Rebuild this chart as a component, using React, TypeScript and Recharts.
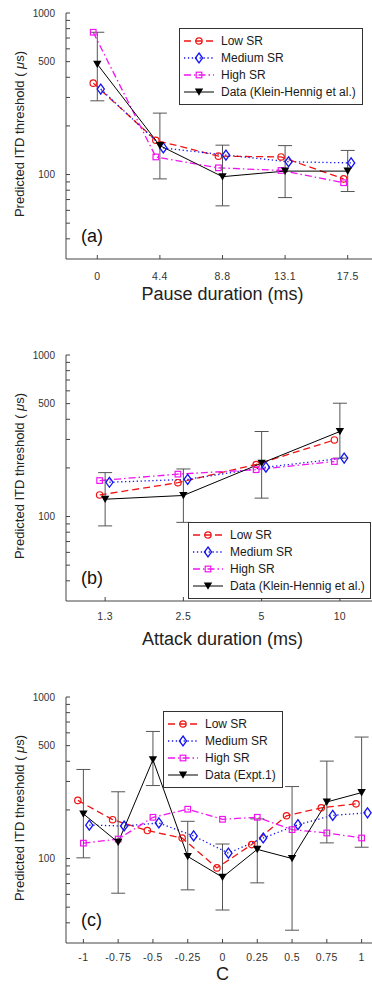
import React from 'react';
import { LineChart, Line, XAxis, YAxis, ErrorBar, Legend } from 'recharts';

const FONT = '"Liberation Sans", Arial, sans-serif';

// (a) pause duration
const pauseTicks = ['0', '4.4', '8.8', '13.1', '17.5'];
const pauseLow = [368, 163, 130, 128.5, 94];
const pauseMedium = [338, 146, 132, 120, 118];
const pauseHigh = [760, 128.5, 110, 106, 89];
const pauseData = [482, 151, 97, 105, 105];
const pauseDataLo = [286, 94, 64, 72, 78.5];
const pauseDataHi = [760, 240, 152, 151, 141];

// (b) attack duration
const attackTicks = ['1.3', '2.5', '5', '10'];
const attackLow = [136, 162, 210, 298];
const attackMedium = [163, 170, 202, 230];
const attackHigh = [167, 183, 195, 219];
const attackData = [128, 135, 214, 336];
const attackDataLo = [87.5, 92, 130, 230];
const attackDataHi = [187, 197, 336, 503];

// (c) C
const cTicks = ['-1', '-0.75', '-0.5', '-0.25', '0', '0.25', '0.5', '0.75', '1'];
const cLow = [229, 174, 149, 134, 87.5, 122, 184, 206, 218];
const cMedium = [161, 159, 166, 138, 108, 134, 162, 185, 192];
const cHigh = [124.5, 132, 180, 202, 175, 180, 151, 144, 134];
const cData = [189, 126, 409, 103, 76.6, 114, 100, 224, 256];
const cDataLo = [101, 61, 283, 64, 48, 70.7, 36, 125, 117.5];
const cDataHi = [356, 259, 612, 170, 123, 176, 279, 401, 565];

const yTicks = [40, 50, 60, 70, 80, 90, 100, 200, 300, 400, 500, 600, 700, 800, 900, 1000];
const yLabelled = [100, 500, 1000];

type Kind = 'circle' | 'diamond' | 'square' | 'triangle';

const LOW = { color: '#f01414', dash: '7 4', marker: 'circle' as Kind, width: 1.3, order: 0 };
const MED = { color: '#1414f0', dash: '1.3 2.6', marker: 'diamond' as Kind, width: 1.3, order: 1 };
const HIGH = { color: '#f014f0', dash: '7 3 1.5 3', marker: 'square' as Kind, width: 1.3, order: 2 };
const DATA = { color: '#000', dash: undefined, marker: 'triangle' as Kind, width: 1, order: 3 };

const styleFor = (name: string) =>
  name.startsWith('Low') ? LOW : name.startsWith('Medium') ? MED : name.startsWith('High') ? HIGH : DATA;

function Marker({ kind, cx, cy, color }: { kind: Kind; cx?: number; cy?: number; color: string }) {
  if (cx == null || cy == null || isNaN(cx) || isNaN(cy)) return null;
  if (kind === 'circle')
    return <circle cx={cx} cy={cy} r={3.2} fill="none" stroke={color} strokeWidth={1.2} />;
  if (kind === 'diamond')
    return (
      <polygon
        points={`${cx},${cy - 5} ${cx + 3.6},${cy} ${cx},${cy + 5} ${cx - 3.6},${cy}`}
        fill="none"
        stroke={color}
        strokeWidth={1.3}
      />
    );
  if (kind === 'square')
    return <rect x={cx - 2.8} y={cy - 2.8} width={5.6} height={5.6} fill="none" stroke={color} strokeWidth={1.2} />;
  return <polygon points={`${cx - 4.2},${cy - 3.5} ${cx + 4.2},${cy - 3.5} ${cx},${cy + 3.8}`} fill="#000" />;
}

function LegendBox({ payload, width }: any) {
  // keep the plotting order: Low, Medium, High, Data
  const items = [...(payload || [])].sort(
    (a: any, b: any) => styleFor(String(a.value)).order - styleFor(String(b.value)).order
  );
  return (
    <div
      style={{
        width,
        boxSizing: 'border-box',
        border: '1px solid #333',
        background: '#fff',
        padding: '3px 4px',
        fontFamily: FONT,
        fontSize: 12,
        color: '#1a1a1a',
      }}
    >
      {items.map((item: any) => {
        const s = styleFor(String(item.value));
        return (
          <div key={item.value} style={{ display: 'flex', alignItems: 'center', height: 17.2 }}>
            <svg width={30} height={10} style={{ overflow: 'visible', flex: 'none' }}>
              <line x1={0} y1={5} x2={30} y2={5} stroke={s.color} strokeWidth={s.width} strokeDasharray={s.dash} />
              <Marker kind={s.marker} cx={15} cy={5} color={s.color} />
            </svg>
            <span style={{ marginLeft: 7, whiteSpace: 'nowrap' }}>{item.value}</span>
          </div>
        );
      })}
    </div>
  );
}

const renderYLabel = (props: any) => {
  const vb = props.viewBox || {};
  const cx = 19;
  const cy = (vb.y ?? 13) + (vb.height ?? 246) / 2 - 2;
  return (
    <text
      x={cx}
      y={cy}
      transform={`rotate(-90 ${cx} ${cy})`}
      textAnchor="middle"
      dominantBaseline="central"
      fontSize={13}
      fill="#222"
      fontFamily={FONT}
    >
      Predicted ITD threshold ( <tspan fontStyle="italic">μ</tspan>s)
    </text>
  );
};

interface PanelProps {
  tag: string;
  xTitle: string;
  cats: string[];
  low: number[];
  medium: number[];
  high: number[];
  data: number[];
  lo: number[];
  hi: number[];
  dataName: string;
  offsets: [number, number, number];
  tickGap: number;
  titleBase: number;
  legend: { left: number; top: number; width: number };
}

function Panel(p: PanelProps) {
  const idx = p.cats.map((_, i) => i);
  const domain = [-0.5, p.cats.length - 0.5];
  const rows = (vals: number[], off: number) => vals.map((v, i) => ({ x: i + off, y: v }));
  const dataRows = p.data.map((v, i) => ({ x: i, y: v, err: [v - p.lo[i], p.hi[i] - v] }));

  const series = [
    { name: 'Low SR', rows: rows(p.low, p.offsets[0]), s: LOW },
    { name: 'Medium SR', rows: rows(p.medium, p.offsets[1]), s: MED },
    { name: 'High SR', rows: rows(p.high, p.offsets[2]), s: HIGH },
  ];

  const xTitle = (props: any) => {
    const vb = props.viewBox || {};
    const x = (vb.x ?? 66) + (vb.width ?? 313) / 2;
    const y = (vb.y ?? 259) + p.titleBase;
    return (
      <text x={x} y={y} textAnchor="middle" fontSize={18} fill="#222" fontFamily={FONT}>
        {p.xTitle}
      </text>
    );
  };

  return (
    <div style={{ position: 'relative', width: 392, height: 342 }}>
      <LineChart width={392} height={342} margin={{ top: 13, right: 13, bottom: 38, left: 8 }}>
        <XAxis
          type="number"
          dataKey="x"
          domain={domain}
          ticks={idx}
          interval={0}
          allowDataOverflow
          height={45}
          tickSize={-4}
          tickMargin={p.tickGap}
          tickFormatter={(v: number) => p.cats[Math.round(v)] ?? ''}
          stroke="#444"
          tick={{ fontSize: 10.5, fill: '#333', fontFamily: FONT, letterSpacing: 0.4 }}
          label={xTitle}
        />
        <XAxis
          xAxisId="top"
          orientation="top"
          type="number"
          dataKey="x"
          domain={domain}
          ticks={idx}
          interval={0}
          allowDataOverflow
          height={0}
          tickSize={-4}
          tickFormatter={() => ''}
          stroke="#444"
        />
        <YAxis
          type="number"
          scale="log"
          domain={[30, 1000]}
          ticks={yTicks}
          interval={0}
          allowDataOverflow
          width={58}
          tickSize={-4}
          tickMargin={15}
          tickFormatter={(v: number) => (yLabelled.includes(v) ? String(v) : '')}
          stroke="#444"
          tick={{ fontSize: 10, fill: '#333', fontFamily: FONT }}
          label={renderYLabel}
        />
        {series.map(({ name, rows: r, s }) => (
          <Line
            key={name}
            name={name}
            data={r}
            dataKey="y"
            stroke={s.color}
            strokeWidth={s.width}
            strokeDasharray={s.dash}
            dot={(d: any) => <Marker key={`${name}-${d.index}`} kind={s.marker} cx={d.cx} cy={d.cy} color={s.color} />}
            activeDot={false}
            isAnimationActive={false}
          />
        ))}
        <Line
          name={p.dataName}
          data={dataRows}
          dataKey="y"
          stroke="#000"
          strokeWidth={1}
          dot={(d: any) => <Marker key={`data-${d.index}`} kind="triangle" cx={d.cx} cy={d.cy} color="#000" />}
          activeDot={false}
          isAnimationActive={false}
        >
          <ErrorBar dataKey="err" direction="y" width={7} stroke="#555" strokeWidth={1} isAnimationActive={false} />
        </Line>
        <Legend
          layout="vertical"
          align="center"
          verticalAlign="middle"
          wrapperStyle={{ left: p.legend.left, top: p.legend.top, width: p.legend.width, height: 'auto' }}
          content={(props: any) => <LegendBox payload={props.payload} width={p.legend.width} />}
        />
      </LineChart>
      <div
        style={{
          position: 'absolute',
          left: 81,
          top: 226,
          fontSize: 18,
          lineHeight: '20px',
          fontFamily: FONT,
          color: '#111',
        }}
      >
        {p.tag}
      </div>
    </div>
  );
}

export default function App() {
  return (
    <div
      style={{
        position: 'absolute',
        left: 0,
        top: 0,
        width: 372,
        height: 986,
        overflow: 'hidden',
        background: '#fff',
      }}
    >
      <div style={{ position: 'absolute', left: 0, top: 0 }}>
        <Panel
          tag="(a)"
          xTitle="Pause duration (ms)"
          cats={pauseTicks}
          low={pauseLow}
          medium={pauseMedium}
          high={pauseHigh}
          data={pauseData}
          lo={pauseDataLo}
          hi={pauseDataHi}
          dataName="Data (Klein-Hennig et al.)"
          offsets={[-0.065, 0.055, -0.065]}
          tickGap={18}
          titleBase={41}
          legend={{ left: 179, top: 28, width: 184 }}
        />
      </div>
      <div style={{ position: 'absolute', left: 0, top: 342 }}>
        <Panel
          tag="(b)"
          xTitle="Attack duration (ms)"
          cats={attackTicks}
          low={attackLow}
          medium={attackMedium}
          high={attackHigh}
          data={attackData}
          lo={attackDataLo}
          hi={attackDataHi}
          dataName="Data (Klein-Hennig et al.)"
          offsets={[-0.07, 0.055, -0.07]}
          tickGap={16}
          titleBase={44}
          legend={{ left: 188, top: 180, width: 183 }}
        />
      </div>
      <div style={{ position: 'absolute', left: 0, top: 684 }}>
        <Panel
          tag="(c)"
          xTitle="C"
          cats={cTicks}
          low={cLow}
          medium={cMedium}
          high={cHigh}
          data={cData}
          lo={cDataLo}
          hi={cDataHi}
          dataName="Data (Expt.1)"
          offsets={[-0.16, 0.17, 0]}
          tickGap={15}
          titleBase={37}
          legend={{ left: 163, top: 27, width: 120 }}
        />
      </div>
    </div>
  );
}
